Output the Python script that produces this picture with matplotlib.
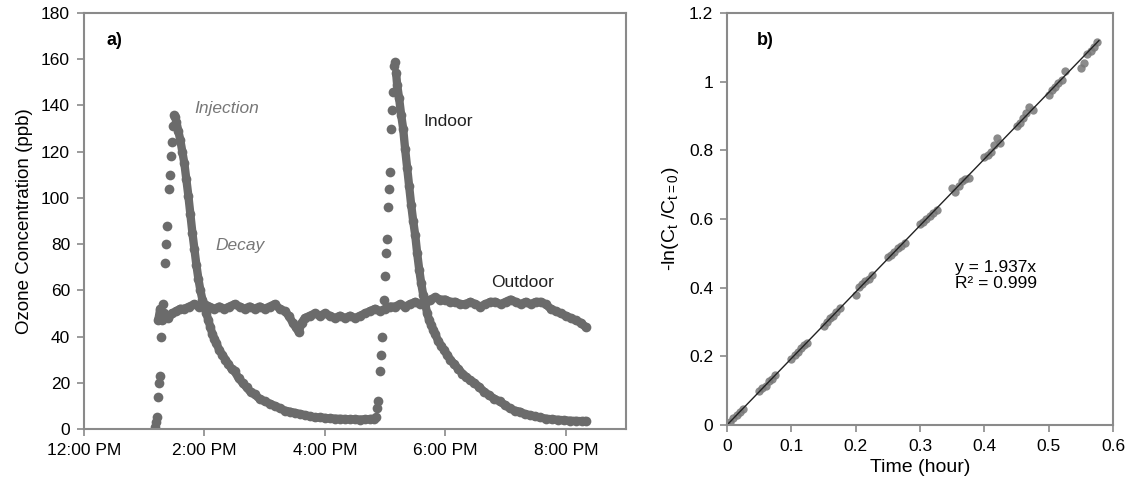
import matplotlib
matplotlib.use("Agg")
from matplotlib import pyplot as plt

plt.rcParams['font.family'] = ['Liberation Sans', 'DejaVu Sans']
plt.rcParams['mathtext.fontset'] = 'custom'
plt.rcParams['mathtext.rm'] = 'Liberation Sans'

##Data - panel a (minutes after 12:00 PM, ppb)
# first injection + decay
inj1_min = [71, 72, 73, 74, 75, 76, 77, 78, 79, 81, 82, 83, 85, 86, 87, 88, 89, 90, 91]
inj1_ppb = [1, 3, 5, 14, 20, 23, 40, 47, 54, 72, 80, 88, 104, 110, 118, 124, 131, 136, 135]
decay1_min = [92, 94, 96, 98, 100, 102, 104, 106, 108, 110, 112, 114, 116, 118, 120, 122, 124,
              126, 128, 130, 132, 135, 138, 141, 144, 147, 150, 154, 158, 162, 166, 170, 175,
              180, 185, 190, 195, 200, 205, 210, 215, 220, 225, 230, 235, 240, 245, 250, 255,
              260, 265, 270, 275, 280, 285, 289]
decay1_ppb = [133, 129, 125, 120, 115, 108, 101, 93, 85, 78, 71, 65, 60, 56, 53, 50, 47,
              44, 41, 39, 37, 34, 32, 30, 28, 26, 25, 22, 20, 18, 16, 15, 13,
              12, 11, 10, 9, 8, 7.5, 7, 6.5, 6, 5.5, 5, 5, 4.8, 4.6, 4.5, 4.4,
              4.3, 4.2, 4.2, 4.1, 4.2, 4.3, 4.5]
# second injection + decay
inj2_min = [291, 292, 293, 295, 296, 297, 299, 300, 301, 302, 303, 304, 305, 306, 307, 308,
            309, 310]
inj2_ppb = [5, 9, 12, 25, 32, 40, 56, 66, 76, 82, 96, 104, 111, 130, 138, 146,
            157, 159]
decay2_min = [311, 312, 314, 316, 318, 320, 322, 324, 326, 328, 330, 332, 334, 336, 338, 340,
              342, 344, 346, 348, 350, 353, 356, 359, 362, 365, 369, 373, 377, 381, 385, 389,
              394, 399, 404, 409, 414, 419, 424, 429, 434, 439, 444, 449, 454, 460, 466, 472,
              478, 484, 490, 496, 500]
decay2_ppb = [154, 149, 143, 136, 130, 121, 113, 105, 97, 90, 84, 76, 69, 63, 58, 54,
              50, 47, 45, 43, 41, 38, 36, 34, 32, 30, 28, 26, 24, 22.5, 21, 20,
              18, 16, 14.5, 13, 12, 10.5, 9, 8, 7.5, 6.5, 6, 5.5, 5, 4.5, 4.2, 4,
              3.8, 3.6, 3.5, 3.4, 3.5]

outdoor_min = [74, 76, 78, 80, 84, 88, 92, 96, 100, 105, 110, 115, 120, 125, 130, 135, 140,
               145, 150, 155, 160, 165, 170, 175, 180, 185, 190, 195, 200, 204, 208, 211,
               214, 217, 220, 225, 230, 235, 240, 245, 250, 255, 260, 265, 270, 275, 280,
               285, 290, 295, 300, 305, 310, 315, 320, 325, 330, 335, 340, 345, 350, 355,
               360, 365, 370, 375, 380, 385, 390, 395, 400, 405, 410, 415, 420, 425, 430,
               435, 440, 445, 450, 455, 460, 465, 470, 475, 480, 485, 490, 495, 500]
outdoor_ppb = [47, 52, 49, 50, 48, 50, 51, 52, 52, 53, 54, 53, 54, 53, 52, 53, 52,
               53, 54, 53, 52, 53, 52, 53, 52, 53, 54, 52, 51, 49, 46, 44,
               42, 46, 48, 49, 50, 49, 50, 49, 48, 49, 48, 49, 48, 49, 50,
               51, 52, 51, 52, 53, 53, 54, 53, 54, 55, 54, 55, 56, 57, 56,
               56, 55, 55, 54, 54, 55, 54, 53, 54, 55, 55, 54, 55, 56, 55,
               54, 55, 54, 55, 55, 54, 52, 51, 50, 49, 48, 47, 46, 44]

time_ticks = [0, 2, 4, 6, 8]
time_labels = ['12:00 PM', '2:00 PM', '4:00 PM', '6:00 PM', '8:00 PM']

##Data - panel b (hour, -ln(Ct/Ct=0))
decay_hr = [0.000, 0.005, 0.010, 0.015, 0.020, 0.025,
            0.050, 0.055, 0.060, 0.065, 0.070, 0.075,
            0.100, 0.105, 0.110, 0.115, 0.120, 0.124,
            0.150, 0.155, 0.160, 0.165, 0.170, 0.176,
            0.200, 0.205, 0.210, 0.215, 0.220, 0.226,
            0.250, 0.255, 0.260, 0.265, 0.270, 0.276,
            0.300, 0.305, 0.310, 0.315, 0.320, 0.326,
            0.350, 0.355, 0.360, 0.365, 0.370, 0.376,
            0.400, 0.405, 0.410, 0.415, 0.420, 0.425,
            0.450, 0.455, 0.460, 0.465, 0.470, 0.476,
            0.500, 0.505, 0.510, 0.515, 0.520, 0.526,
            0.550, 0.555, 0.560, 0.565, 0.570, 0.575]
decay_ln = [0.000, 0.008, 0.020, 0.028, 0.038, 0.047,
            0.098, 0.108, 0.114, 0.128, 0.135, 0.146,
            0.192, 0.204, 0.212, 0.224, 0.232, 0.240,
            0.287, 0.300, 0.312, 0.318, 0.330, 0.340,
            0.380, 0.402, 0.410, 0.418, 0.426, 0.436,
            0.488, 0.496, 0.505, 0.515, 0.520, 0.530,
            0.585, 0.590, 0.600, 0.610, 0.616, 0.625,
            0.690, 0.680, 0.696, 0.712, 0.715, 0.720,
            0.780, 0.785, 0.795, 0.815, 0.835, 0.822,
            0.870, 0.880, 0.895, 0.910, 0.925, 0.918,
            0.960, 0.975, 0.985, 0.995, 1.005, 1.030,
            1.040, 1.055, 1.080, 1.090, 1.100, 1.115]
slope = 1.937
fit_hr = [0.0, 0.578]

dot = '#6b6b6b'
spine = '#8a8a8a'
fs = 12.5

def hours(mins):
    return [m / 60 for m in mins]

fig = plt.figure(figsize=(11.33, 4.9), dpi=100)
ax1 = fig.add_axes([0.0741, 0.1245, 0.4784, 0.849])
ax2 = fig.add_axes([0.6417, 0.1327, 0.3407, 0.8408])

##Panel a
for mins, vals in [(inj1_min, inj1_ppb), (inj2_min, inj2_ppb)]:
    ax1.plot(hours(mins), vals, 'o', color=dot, markersize=7, markeredgewidth=0)
for mins, vals in [(decay1_min, decay1_ppb), (decay2_min, decay2_ppb), (outdoor_min, outdoor_ppb)]:
    ax1.plot(hours(mins), vals, '-o', color=dot, markersize=7, markeredgewidth=0,
             linewidth=6, solid_capstyle='round', solid_joinstyle='round')
ax1.set_xlim(0, 9)
ax1.set_ylim(0, 180)
ax1.set_yticks(range(0, 181, 20))
ax1.set_xticks(time_ticks)
ax1.set_xticklabels(time_labels)
ax1.set_ylabel('Ozone Concentration (ppb)', fontsize=13.5, labelpad=6)
ax1.text(0.38, 168, 'a)', fontsize=13, fontweight='bold', va='center')
ax1.text(1.84, 138.5, 'Injection', fontsize=fs, style='italic', color='#777777', va='center')
ax1.text(2.18, 79.6, 'Decay', fontsize=fs, style='italic', color='#777777', va='center')
ax1.text(5.63, 133, 'Indoor', fontsize=fs, color='#222222', va='center')
ax1.text(6.76, 63.6, 'Outdoor', fontsize=fs, color='#222222', va='center')

##Panel b
ax2.plot(decay_hr, decay_ln, 'o', color='#777777', markersize=6, markeredgewidth=0, alpha=0.85)
ax2.plot(fit_hr, [slope * t for t in fit_hr], color='#222222', linewidth=1)
ax2.set_xlim(0, 0.6)
ax2.set_ylim(0, 1.2)
ax2.set_xticks([0, 0.1, 0.2, 0.3, 0.4, 0.5, 0.6])
ax2.set_xticklabels(['0', '0.1', '0.2', '0.3', '0.4', '0.5', '0.6'])
ax2.set_yticks([0, 0.2, 0.4, 0.6, 0.8, 1.0, 1.2])
ax2.set_yticklabels(['0', '0.2', '0.4', '0.6', '0.8', '1', '1.2'])
ax2.set_xlabel('Time (hour)', fontsize=14)
ax2.set_ylabel(r'-ln(C$_{\mathregular{t}}$ /C$_{\mathregular{t=0}}$)', fontsize=14, labelpad=6)
ax2.text(0.047, 1.12, 'b)', fontsize=13, fontweight='bold', va='center')
ax2.text(0.355, 0.48, 'y = 1.937x\nR² = 0.999', fontsize=fs, va='top', linespacing=1.05)

for ax in (ax1, ax2):
    for s in ax.spines.values():
        s.set_color(spine)
        s.set_linewidth(1.5)
    ax.tick_params(direction='out', length=5, width=1.2, color=spine, labelsize=fs, pad=5)

fig.savefig('out.png', dpi=100)
